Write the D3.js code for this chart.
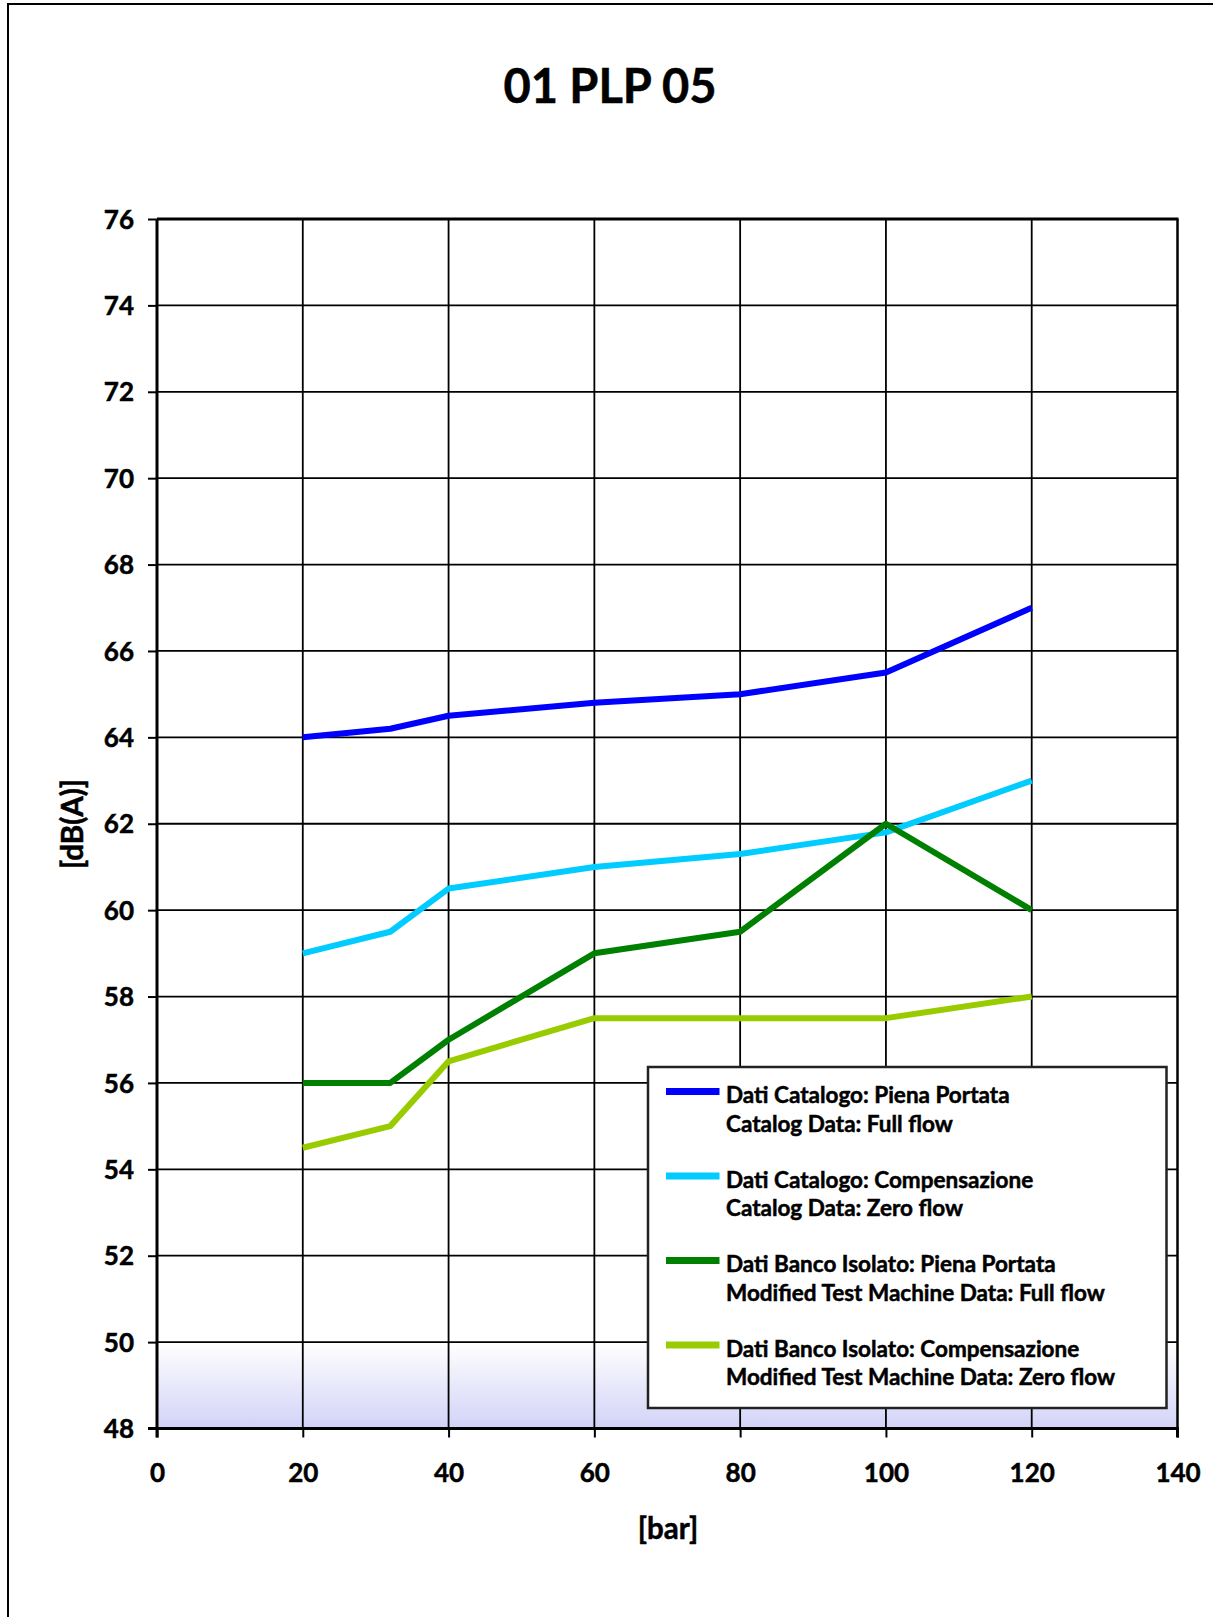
<!DOCTYPE html>
<html>
<head>
<meta charset="utf-8">
<script src="https://cdn.jsdelivr.net/npm/d3@7/dist/d3.min.js"></script>
<style>
html,body{margin:0;padding:0;background:#fff;overflow:hidden;}
svg{display:block;}
text{font-family:Lato,"Open Sans",sans-serif;font-weight:bold;fill:#000;stroke:#000;stroke-width:0.5px;}
</style>
</head>
<body>
<svg id="chart" width="1213" height="1617"></svg>
<script>
// ---- data ----
const title = "01 PLP 05";
const xLabel = "[bar]";
const yLabel = "[dB(A)]";
const pressures = [20, 32, 40, 60, 80, 100, 120];
const catalogFull = [64, 64.2, 64.5, 64.8, 65, 65.5, 67];
const catalogZero = [59, 59.5, 60.5, 61, 61.3, 61.8, 63];
const benchFull = [56, 56, 57, 59, 59.5, 62, 60];
const benchZero = [54.5, 55, 56.5, 57.5, 57.5, 57.5, 58];
const xTicks = [0, 20, 40, 60, 80, 100, 120, 140];
const yTicks = [48, 50, 52, 54, 56, 58, 60, 62, 64, 66, 68, 70, 72, 74, 76];
const seriesNames = [
  ["Dati Catalogo: Piena Portata", "Catalog Data: Full flow"],
  ["Dati Catalogo: Compensazione", "Catalog Data: Zero flow"],
  ["Dati Banco Isolato: Piena Portata", "Modified Test Machine Data: Full flow"],
  ["Dati Banco Isolato: Compensazione", "Modified Test Machine Data: Zero flow"]
];
const seriesColors = ["#0000ff", "#00ccff", "#008000", "#99cc00"];
const seriesValues = [catalogFull, catalogZero, benchFull, benchZero];

// ---- layout ----
const svg = d3.select("#chart");
const L = 157, R = 1177.5, T = 219, B = 1428.5;
const x = d3.scaleLinear().domain([0, 140]).range([L, R]);
const y = d3.scaleLinear().domain([48, 76]).range([B, T]);

// outer chart border
svg.append("rect").attr("x", 8).attr("y", 4).attr("width", 1400).attr("height", 1800)
  .attr("fill", "none").attr("stroke", "#000").attr("stroke-width", 2);

// gradient band at bottom of plot
const defs = svg.append("defs");
const grad = defs.append("linearGradient").attr("id", "bg").attr("x1", 0).attr("y1", 0).attr("x2", 0).attr("y2", 1);
grad.append("stop").attr("offset", "0%").attr("stop-color", "#ffffff");
grad.append("stop").attr("offset", "100%").attr("stop-color", "#d2d2f8");
svg.append("rect").attr("x", x(0)).attr("y", y(50)).attr("width", x(140) - x(0)).attr("height", y(48) - y(50))
  .attr("fill", "url(#bg)");

// grid
const grid = svg.append("g");
grid.selectAll("line.h").data(yTicks.filter(v => v > 48 && v < 76)).enter().append("line")
  .attr("x1", x(0)).attr("x2", x(140)).attr("y1", d => y(d)).attr("y2", d => y(d))
  .attr("stroke", "#000").attr("stroke-width", 1.8);
grid.selectAll("line.v").data(xTicks.filter(v => v > 0 && v < 140)).enter().append("line")
  .attr("y1", y(48)).attr("y2", y(76)).attr("x1", d => x(d)).attr("x2", d => x(d))
  .attr("stroke", "#000").attr("stroke-width", 1.8);
// top and right border
svg.append("line").attr("x1", x(0)).attr("x2", x(140) + 1).attr("y1", y(76)).attr("y2", y(76)).attr("stroke", "#000").attr("stroke-width", 3);
svg.append("line").attr("x1", x(140)).attr("x2", x(140)).attr("y1", y(76)).attr("y2", y(48)).attr("stroke", "#000").attr("stroke-width", 2.5);

// series lines
const line = d3.line().x((d, i) => x(pressures[i])).y(d => y(d));
seriesValues.forEach((vals, k) => {
  svg.append("path").datum(vals).attr("d", line).attr("fill", "none")
    .attr("stroke", seriesColors[k]).attr("stroke-width", 6)
    .attr("stroke-linejoin", "round").attr("stroke-linecap", "butt");
});

// axes
const xAxis = svg.append("g").attr("transform", `translate(0,${B})`)
  .call(d3.axisBottom(x).tickValues(xTicks).tickSize(9).tickPadding(26).tickFormat(d3.format("d")));
const yAxis = svg.append("g").attr("transform", `translate(${L},0)`)
  .call(d3.axisLeft(y).tickValues(yTicks).tickSize(9).tickPadding(14).tickFormat(d3.format("d")));
[xAxis, yAxis].forEach(a => {
  a.select(".domain").attr("stroke", "#000").attr("stroke-width", 3);
  a.selectAll(".tick line").attr("stroke", "#000").attr("stroke-width", 2);
  a.selectAll(".tick text").style("font-family", "Lato, sans-serif").style("font-weight", "bold")
    .style("font-size", "26px").attr("fill", "#000");
});
xAxis.select(".domain").attr("d", `M${L},9V0H${R}V9`);
yAxis.select(".domain").attr("d", `M-9,${B}H0V${T}`);
yAxis.selectAll(".tick text").attr("dy", "0.35em");

// titles
svg.append("text").attr("x", 610).attr("y", 103).attr("text-anchor", "middle")
  .style("font-size", "47px").text(title);
svg.append("text").attr("x", 668).attr("y", 1539).attr("text-anchor", "middle")
  .style("font-size", "29.5px").text(xLabel);
svg.append("text").attr("transform", "translate(83,824) rotate(-90)").attr("text-anchor", "middle")
  .style("font-size", "29.5px").text(yLabel);

// legend
const lg = svg.append("g");
lg.append("rect").attr("x", 648).attr("y", 1067).attr("width", 518.5).attr("height", 341)
  .attr("fill", "#fff").attr("stroke", "#222").attr("stroke-width", 2.5);
seriesNames.forEach((names, k) => {
  const y0 = 1091.5 + k * 84.5;
  lg.append("line").attr("x1", 666).attr("x2", 719.5).attr("y1", y0).attr("y2", y0)
    .attr("stroke", seriesColors[k]).attr("stroke-width", 7);
  names.forEach((t, j) => {
    lg.append("text").attr("x", 726).attr("y", y0 + 11.8 + j * 28.4)
      .style("font-size", "22.5px").text(t);
  });
});
</script>
</body>
</html>
